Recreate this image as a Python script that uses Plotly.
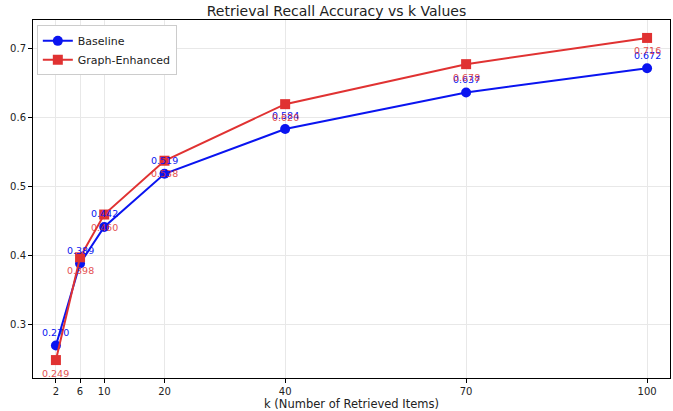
import plotly.graph_objects as go

k_values = [2, 6, 10, 20, 40, 70, 100]
baseline = [0.270, 0.389, 0.442, 0.519, 0.584, 0.637, 0.672]
graph_enhanced = [0.249, 0.398, 0.460, 0.538, 0.620, 0.678, 0.716]
y_ticks = [0.3, 0.4, 0.5, 0.6, 0.7]

BLUE = "#0a14f0"
RED = "#e03232"

fig = go.Figure()
fig.add_trace(go.Scatter(
    x=k_values, y=baseline, mode="lines+markers", name="Baseline",
    line=dict(color=BLUE, width=2), marker=dict(symbol="circle", size=10, color=BLUE),
))
fig.add_trace(go.Scatter(
    x=k_values, y=graph_enhanced, mode="lines+markers", name="Graph-Enhanced",
    line=dict(color=RED, width=2), marker=dict(symbol="square", size=10, color=RED),
))

for x, y in zip(k_values, baseline):
    fig.add_annotation(x=x, y=y, text=f"{y:.3f}", showarrow=False, yshift=13,
                       font=dict(size=9.5, color=BLUE, family="DejaVu Sans"))
for x, y in zip(k_values, graph_enhanced):
    fig.add_annotation(x=x, y=y, text=f"{y:.3f}", showarrow=False, yshift=-13,
                       font=dict(size=9.5, color=RED, family="DejaVu Sans"), opacity=0.85)

fig.update_layout(
    width=673, height=411,
    margin=dict(l=33, r=3, t=20, b=33),
    paper_bgcolor="white", plot_bgcolor="white",
    font=dict(family="DejaVu Sans", size=10, color="#222"),
    title=dict(text="Retrieval Recall Accuracy vs k Values", x=0.5, xanchor="center",
               y=1 - 11 / 411, yanchor="middle", font=dict(size=14, color="#222")),
    legend=dict(x=0.006, y=0.985, xanchor="left", yanchor="top",
                bordercolor="#cccccc", borderwidth=1, bgcolor="white",
                font=dict(size=11)),
    showlegend=True,
)
fig.update_xaxes(
    range=[-1.8, 103.8], tickvals=k_values, ticktext=[str(k) for k in k_values],
    showgrid=True, gridcolor="#e8e8e8", gridwidth=1,
    showline=True, linecolor="black", linewidth=1, mirror=True,
    ticks="outside", ticklen=4, tickcolor="black", zeroline=False,
    title=dict(text="k (Number of Retrieved Items)", font=dict(size=11.5), standoff=3),
)
fig.update_yaxes(
    range=[0.223, 0.742], tickvals=y_ticks, ticktext=[f"{t:.1f}" for t in y_ticks],
    showgrid=True, gridcolor="#e8e8e8", gridwidth=1,
    showline=True, linecolor="black", linewidth=1, mirror=True,
    ticks="outside", ticklen=4, tickcolor="black", zeroline=False,
)

fig.write_html("out.html", config={"displayModeBar": False},
               post_script="document.body.style.margin='0';")
